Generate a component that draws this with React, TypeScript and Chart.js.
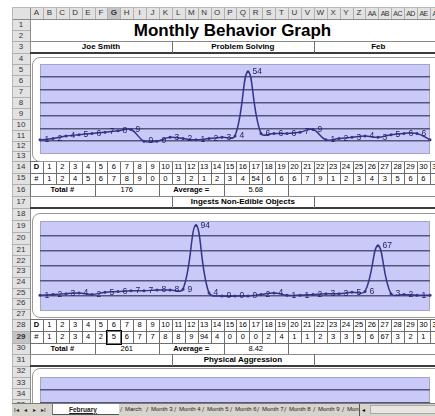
import React, { useEffect, useRef } from 'react';
import { Chart, registerables } from 'chart.js';
Chart.register(...registerables);

// ---------- data ----------
const DAYS = ['1','2','3','4','5','6','7','8','9','10','11','12','13','14','15','16','17','18','19','20','21','22','23','24','25','26','27','28','29','30','31'];
const PROBLEM_SOLVING = [1,2,4,5,6,7,8,9,0,0,3,2,1,2,3,4,54,6,6,6,7,9,1,2,3,4,3,5,6,6,1];
const INGESTS = [1,2,3,4,2,5,6,7,7,8,8,9,94,4,0,0,0,2,4,1,1,2,3,3,5,6,67,3,2,1,1];
const AGGRESSION: number[] = [];
const PS_TOTAL = '176';
const PS_AVG = '5.68';
const ING_TOTAL = '261';
const ING_AVG = '8.42';
const COL_LETTERS = ['A','B','C','D','E','F','G','H','I','J','K','L','M','N','O','P','Q','R','S','T','U','V','W','X','Y','Z','AA','AB','AC','AD','AE','AF'];
const TABS = ['March','Month 3','Month 4','Month 5','Month 6','Month 7','Month 8','Month 9','Month 10'];

// ---------- style ----------
const FONT = '"Liberation Sans", Arial, Helvetica, sans-serif';
const X0 = 30;
const CW = 12.9;
const cx = (i: number) => X0 + i * CW;
const ROW_TOP = [0, 19, 30, 41, 53, 64, 75, 86, 97, 108, 119, 130, 141, 151, 161, 172.5, 184, 196, 207.5, 220, 232, 244, 255, 266, 276.5, 287.5, 298, 308.5, 319, 331, 342.5, 354, 365.5, 377, 388, 399, 410];
const HEAD_BG = '#e2e2e2';
const BORDER = '#6e6e6e';
const LINE_COLOR = '#34348c';
const LABEL_COLOR = '#1e1e5e';
const PLOT_BG = '#cacaf8';
const GRID_COLOR = '#56567c';
const TAB_X = [120, 146, 174, 202, 230, 257, 284, 313, 342];

const plotBg = {
  id: 'plotBg',
  beforeDraw(chart: any) {
    const { ctx, chartArea: a } = chart;
    ctx.save();
    ctx.fillStyle = PLOT_BG;
    ctx.fillRect(a.left, a.top, a.right - a.left, a.bottom - a.top);
    ctx.strokeStyle = '#a4a4c8';
    ctx.lineWidth = 1;
    ctx.strokeRect(a.left + 0.5, a.top + 0.5, a.right - a.left - 1, a.bottom - a.top - 1);
    ctx.restore();
  },
};

const pointLabels = {
  id: 'pointLabels',
  afterDatasetsDraw(chart: any) {
    const ctx = chart.ctx;
    const ds = chart.data.datasets[0];
    if (!ds || !ds.data.length) return;
    const meta = chart.getDatasetMeta(0);
    ctx.save();
    ctx.font = `8.5px ${FONT}`;
    ctx.fillStyle = LABEL_COLOR;
    ctx.textAlign = 'left';
    ctx.textBaseline = 'middle';
    meta.data.forEach((pt: any, i: number) => {
      ctx.fillText(String(ds.data[i]), pt.x + 4.5, pt.y);
    });
    ctx.restore();
  },
};

type LCProps = { values: number[]; min: number; max: number; step: number; left: number; top: number; width: number; height: number; pad: { left: number; top: number; right: number; bottom: number } };

function LineChart(p: LCProps) {
  const ref = useRef<HTMLCanvasElement>(null);
  useEffect(() => {
    const chart = new Chart(ref.current as HTMLCanvasElement, {
      type: 'line',
      data: {
        labels: DAYS,
        datasets: [{
          data: p.values,
          borderColor: LINE_COLOR,
          borderWidth: 1.5,
          tension: 0.4,
          pointRadius: 1.5,
          pointBackgroundColor: LINE_COLOR,
          pointBorderWidth: 0,
          fill: false,
        }],
      },
      options: {
        animation: false,
        responsive: false,
        maintainAspectRatio: false,
        layout: { padding: p.pad },
        plugins: { legend: { display: false }, tooltip: { enabled: false }, title: { display: false } },
        scales: {
          x: { display: false, offset: false },
          y: {
            min: p.min,
            max: p.max,
            ticks: { display: false, stepSize: p.step },
            grid: {
              drawTicks: false,
              lineWidth: 1.5,
              color: (c: any) => (c.tick && (c.tick.value === p.min || c.tick.value === p.max)) ? 'rgba(0,0,0,0)' : GRID_COLOR,
            },
            border: { display: false },
          },
        },
      } as any,
      plugins: [plotBg, pointLabels],
    });
    return () => chart.destroy();
  }, []);
  return <canvas ref={ref} width={p.width} height={p.height} style={{ position: 'absolute', left: p.left, top: p.top, width: p.width, height: p.height }} />;
}

// ---------- helpers ----------
const Box = ({ x, y, w, h, c, z }: any) => (
  <div style={{ position: 'absolute', left: x, top: y, width: w, height: h, background: c, zIndex: z || 0 }} />
);

const Txt = ({ x0, x1, y0, y1, children, bold, size, align, color, z }: any) => (
  <div style={{
    position: 'absolute', left: x0, top: y0, width: x1 - x0, height: y1 - y0,
    display: 'flex', alignItems: 'center', justifyContent: align === 'left' ? 'flex-start' : 'center',
    fontFamily: FONT, fontSize: size || 8, fontWeight: bold ? 700 : 400, color: color || '#000',
    whiteSpace: 'nowrap', lineHeight: 1, zIndex: z || 1,
  }}>{children}</div>
);

const HL = (x0: number, x1: number, y: number, th = 1, c = BORDER, key?: string) => <Box key={key} x={x0} y={y} w={x1 - x0} h={th} c={c} z={2} />;
const VL = (x: number, y0: number, y1: number, c = BORDER, key?: string) => <Box key={key} x={x} y={y0} w={1} h={y1 - y0} c={c} z={2} />;

function TitleRow({ row, left, mid, right }: { row: number; left: string; mid: string; right: string }) {
  const y0 = ROW_TOP[row], y1 = ROW_TOP[row + 1];
  return (
    <>
      {HL(X0, 435, y0, 1, '#8a8a8a')}
      {HL(X0, 435, y1 - 1, 2, '#3c3c3c')}
      {VL(cx(11), y0, y1)}
      {VL(cx(22), y0, y1)}
      <Txt x0={cx(0)} x1={cx(11)} y0={y0} y1={y1} bold size={8}>{left}</Txt>
      <Txt x0={cx(11)} x1={cx(22)} y0={y0} y1={y1} bold size={8}>{mid}</Txt>
      <Txt x0={cx(22)} x1={cx(32)} y0={y0} y1={y1} bold size={8}>{right}</Txt>
    </>
  );
}

function DataTable({ row, values, total, avg, selected }: { row: number; values: number[]; total: string; avg: string; selected?: number }) {
  const r1 = ROW_TOP[row], r2 = ROW_TOP[row + 1], r3 = ROW_TOP[row + 2], r4 = ROW_TOP[row + 3];
  const els: any[] = [];
  els.push(HL(X0, 435, r1, 1, BORDER, 'h1'));
  els.push(HL(X0, 435, r2, 1, BORDER, 'h2'));
  els.push(HL(X0, 435, r3, 1, BORDER, 'h3'));
  els.push(HL(X0, 435, r4, 1, BORDER, 'h4'));
  for (let i = 0; i <= 32; i++) els.push(VL(cx(i), r1, r3, BORDER, 'v' + i));
  for (let i = 0; i < 32; i++) {
    els.push(<Txt key={'d' + i} x0={cx(i)} x1={cx(i + 1)} y0={r1} y1={r2} bold={i === 0} size={7.5}>{i === 0 ? 'D' : DAYS[i - 1]}</Txt>);
    els.push(<Txt key={'n' + i} x0={cx(i)} x1={cx(i + 1)} y0={r2} y1={r3} size={7.5}>{i === 0 ? '#' : String(values[i - 1])}</Txt>);
  }
  if (selected !== undefined) {
    els.push(<div key="sel" style={{ position: 'absolute', left: cx(selected) - 1, top: r2 - 1, width: CW + 1, height: r3 - r2 + 1, border: '1.5px solid #000', zIndex: 3 }} />);
  }
  [0, 5, 10, 15, 20].forEach((c) => els.push(VL(cx(c), r3, r4, BORDER, 's' + c)));
  els.push(<Txt key="t1" x0={cx(0)} x1={cx(5)} y0={r3} y1={r4} bold size={7.5}>Total #</Txt>);
  els.push(<Txt key="t2" x0={cx(5)} x1={cx(10)} y0={r3} y1={r4} size={7.5}>{total}</Txt>);
  els.push(<Txt key="t3" x0={cx(10)} x1={cx(15)} y0={r3} y1={r4} bold size={7.5}>Average =</Txt>);
  els.push(<Txt key="t4" x0={cx(15)} x1={cx(20)} y0={r3} y1={r4} size={7.5}>{avg}</Txt>);
  return <>{els}</>;
}

function ChartFrame({ top, bottom }: { top: number; bottom: number }) {
  return (
    <div style={{
      position: 'absolute', left: 32, top, width: 430, height: bottom - top,
      background: '#fff', borderRadius: 8, border: '1px solid #9a9a9a', boxSizing: 'border-box', zIndex: 4,
    }} />
  );
}

export default function App() {
  const rowHeads: any[] = [];
  for (let r = 1; r <= 35; r++) {
    const y0 = ROW_TOP[r], y1 = ROW_TOP[r + 1];
    rowHeads.push(
      <Txt key={'r' + r} x0={12} x1={30} y0={y0} y1={y1} size={8} color="#333"
        bold={r === 29}>{String(r)}</Txt>
    );
    rowHeads.push(HL(12, 30, y1, 1, '#b0b0b0', 'rl' + r));
  }
  const colHeads: any[] = [];
  for (let i = 0; i < 32; i++) {
    const two = COL_LETTERS[i].length > 1;
    colHeads.push(
      <Txt key={'c' + i} x0={cx(i)} x1={cx(i + 1)} y0={7} y1={19} size={two ? 7 : 8} color="#333"
        bold={i === 6}>
        <span style={{ letterSpacing: two ? -0.6 : 0 }}>{COL_LETTERS[i]}</span>
      </Txt>
    );
    colHeads.push(VL(cx(i + 1), 7, 19, '#b0b0b0', 'cl' + i));
  }

  return (
    <div style={{ position: 'absolute', left: 0, top: 0, width: 435, height: 416, overflow: 'hidden', background: '#fff', fontFamily: FONT }}>
      {/* headers */}
      <Box x={12} y={7} w={423} h={12} c={HEAD_BG} />
      <Box x={12} y={19} w={18} h={390} c={HEAD_BG} />
      <Box x={cx(6)} y={7} w={CW} h={12} c="#c4c4c4" z={1} />
      <Box x={12} y={ROW_TOP[29]} w={18} h={ROW_TOP[30] - ROW_TOP[29]} c="#c4c4c4" z={1} />
      {HL(12, 435, 19, 1, '#8c8c8c')}
      {VL(30, 7, 403, '#8c8c8c')}
      {VL(12, 7, 403, '#b8b8b8')}
      {HL(12, 435, 7, 1, '#b8b8b8')}
      {colHeads}
      {rowHeads}

      {/* title */}
      <Txt x0={30} x1={435} y0={19} y1={41} bold size={17}>Monthly Behavior Graph</Txt>
      {HL(X0, 435, 41, 1, '#8a8a8a')}
      <TitleRow row={3} left="Joe Smith" mid="Problem Solving" right="Feb" />

      {/* chart 1 */}
      <ChartFrame top={57} bottom={162} />
      <div style={{ position: 'absolute', left: 0, top: 0, zIndex: 5 }}>
        <LineChart values={PROBLEM_SOLVING} min={-10} max={60} step={10}
          left={32} top={57} width={403} height={105} pad={{ left: 8, top: 7, right: 5, bottom: 8 }} />
      </div>

      <DataTable row={14} values={PROBLEM_SOLVING} total={PS_TOTAL} avg={PS_AVG} />
      <TitleRow row={17} left="" mid="Ingests Non-Edible Objects" right="" />

      {/* chart 2 */}
      <ChartFrame top={213} bottom={318} />
      <div style={{ position: 'absolute', left: 0, top: 0, zIndex: 5 }}>
        <LineChart values={INGESTS} min={-20} max={100} step={20}
          left={32} top={213} width={403} height={105} pad={{ left: 8, top: 8, right: 5, bottom: 7 }} />
      </div>

      <DataTable row={28} values={INGESTS} total={ING_TOTAL} avg={ING_AVG} selected={6} />
      <TitleRow row={31} left="" mid="Physical Aggression" right="" />

      {/* chart 3 */}
      <ChartFrame top={368} bottom={480} />
      <div style={{ position: 'absolute', left: 0, top: 0, zIndex: 5 }}>
        <LineChart values={AGGRESSION} min={-10} max={60} step={10}
          left={32} top={368} width={403} height={105} pad={{ left: 8, top: 9, right: 5, bottom: 6 }} />
      </div>

      {/* sheet tabs */}
      <div style={{ position: 'absolute', left: 12, top: 403, width: 423, height: 13, background: '#d6d3cc', borderTop: '1px solid #7a7a7a', boxSizing: 'border-box', zIndex: 10 }} />
      <div style={{ position: 'absolute', left: 12, top: 404, width: 347, height: 12, overflow: 'hidden', zIndex: 11, fontFamily: FONT, fontSize: 6, color: '#222', whiteSpace: 'nowrap' }}>
        <span style={{ position: 'absolute', left: 2, top: 2, fontSize: 6 }}>I◂</span>
        <span style={{ position: 'absolute', left: 12, top: 2, fontSize: 6 }}>◂</span>
        <span style={{ position: 'absolute', left: 21, top: 2, fontSize: 6 }}>▸</span>
        <span style={{ position: 'absolute', left: 29, top: 2, fontSize: 6 }}>▸I</span>
        <div style={{ position: 'absolute', left: 40, top: -1, width: 66, height: 11, background: '#fff', borderBottom: '1px solid #555', borderLeft: '1px solid #777' }} />
        <span style={{ position: 'absolute', left: 57, top: 1.5, fontWeight: 700, fontSize: 6.5, textDecoration: 'underline' }}>February</span>
        {TABS.map((t, i) => (
          <React.Fragment key={t}>
            <span style={{ position: 'absolute', left: TAB_X[i] - 12, top: 1, fontSize: 8, color: '#555', whiteSpace: 'nowrap' }}>/</span>
            <span style={{ position: 'absolute', left: TAB_X[i] - 12 + 5, top: 2, whiteSpace: 'nowrap' }}>{t}</span>
          </React.Fragment>
        ))}
      </div>
      <div style={{ position: 'absolute', left: 359, top: 404, width: 76, height: 12, zIndex: 11, borderLeft: '1px solid #555', boxSizing: 'border-box', fontFamily: FONT, fontSize: 6 }}>
        <span style={{ position: 'absolute', left: 2, top: 2 }}>◂</span>
        <div style={{ position: 'absolute', left: 10, top: 1, width: 66, height: 9, background: '#e8e6e0', border: '1px solid #aaa', boxSizing: 'border-box' }} />
      </div>
    </div>
  );
}
